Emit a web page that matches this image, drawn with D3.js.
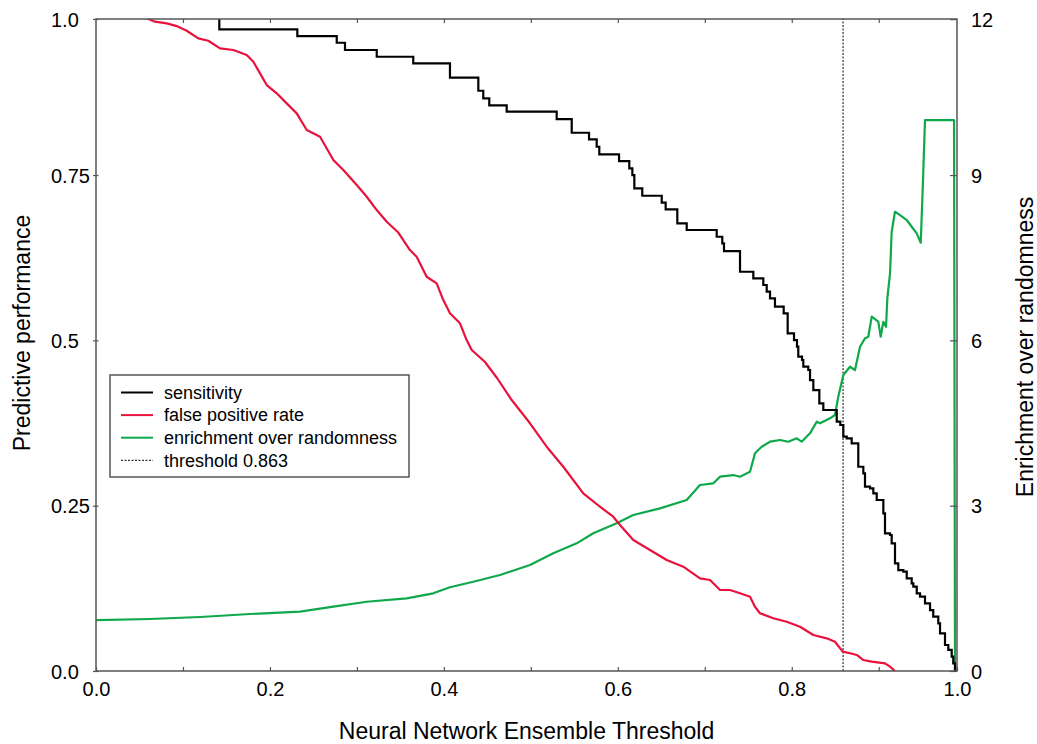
<!DOCTYPE html>
<html>
<head>
<meta charset="utf-8">
<script src="https://cdn.jsdelivr.net/npm/d3@7"></script>
<style>
  html, body { margin: 0; padding: 0; background: #fff; }
  svg { display: block; }
  text { font-family: "Liberation Sans", Arial, Helvetica, sans-serif; fill: #000; }
</style>
</head>
<body>
<svg id="chart" width="1037" height="744"></svg>
<script>
// ---------------- DATA ----------------
// Sensitivity: step function, [threshold where it drops, new value]
const sensX = [0, 0.1418, 0.2315, 0.2768, 0.2863, 0.3228, 0.3648, 0.4070, 0.4396, 0.4453, 0.4522,
  0.4722, 0.5297, 0.5470, 0.5669, 0.5757, 0.5787, 0.6014, 0.6132, 0.6167, 0.6190, 0.6281, 0.6505,
  0.6550, 0.6684, 0.6792, 0.7137, 0.7201, 0.7221, 0.7405, 0.7558, 0.7673, 0.7712, 0.7750, 0.7807,
  0.7907, 0.7953, 0.8026, 0.8060, 0.8075, 0.8118, 0.8133, 0.8190, 0.8210, 0.8248, 0.8317, 0.8363,
  0.8517, 0.8558, 0.8593, 0.8632, 0.8689, 0.8765, 0.8823, 0.8842, 0.8900, 0.8938, 0.8977, 0.9053,
  0.9072, 0.9130, 0.9149, 0.9187, 0.9225, 0.9283, 0.9322, 0.9379, 0.9398, 0.9437, 0.9475, 0.9532,
  0.9590, 0.9627, 0.9685, 0.9705, 0.9762, 0.9800, 0.9839, 0.9857, 0.9877];
const sensY = [1.0, 0.9704, 0.9602, 0.9501, 0.9391, 0.9289, 0.9189, 0.8972, 0.8775, 0.8660, 0.8554,
  0.8458, 0.8347, 0.8140, 0.8040, 0.7928, 0.7813, 0.7712, 0.7602, 0.7500, 0.7299, 0.7187, 0.7082,
  0.6982, 0.6770, 0.6669, 0.6567, 0.6468, 0.6351, 0.6038, 0.5938, 0.5837, 0.5736, 0.5636, 0.5509,
  0.5409, 0.5107, 0.5005, 0.4904, 0.4753, 0.4703, 0.4602, 0.4552, 0.4400, 0.4249, 0.4048, 0.3947,
  0.3770, 0.3720, 0.3543, 0.3519, 0.3443, 0.3089, 0.2990, 0.2787, 0.2763, 0.2687, 0.2586, 0.2385,
  0.2082, 0.2057, 0.1931, 0.1629, 0.1527, 0.1502, 0.1402, 0.1326, 0.1275, 0.1175, 0.1124, 0.1024,
  0.0922, 0.0821, 0.0721, 0.0570, 0.0393, 0.0318, 0.0216, 0.0116, 0.0];

// False positive rate
const fprX = [0, 0.0583, 0.0678, 0.0813, 0.0928, 0.1043, 0.1176, 0.1291, 0.1426, 0.1579, 0.1733,
  0.1809, 0.1886, 0.1963, 0.2078, 0.2193, 0.2308, 0.2423, 0.2576, 0.2729, 0.2844, 0.2998, 0.3113,
  0.3228, 0.3343, 0.3476, 0.3610, 0.3687, 0.3802, 0.3917, 0.3993, 0.4070, 0.4185, 0.4262, 0.4320,
  0.4473, 0.4611, 0.4780, 0.4990, 0.5182, 0.5373, 0.5603, 0.5795, 0.5948, 0.6025, 0.6178, 0.6370,
  0.6562, 0.6753, 0.6945, 0.7060, 0.7175, 0.7290, 0.7405, 0.7520, 0.7577, 0.7635, 0.7788, 0.7942,
  0.8095, 0.8248, 0.8402, 0.8497, 0.8586, 0.8670, 0.8747, 0.8823, 0.8919, 0.9072, 0.9130, 0.9187];
const fprY = [1.0, 0.9870, 0.9819, 0.9794, 0.9753, 0.9682, 0.9567, 0.9531, 0.9416, 0.9391, 0.9315,
  0.9214, 0.9038, 0.8861, 0.8736, 0.8584, 0.8433, 0.8181, 0.8080, 0.7727, 0.7576, 0.7349, 0.7172,
  0.6971, 0.6794, 0.6631, 0.6366, 0.6265, 0.5962, 0.5863, 0.5610, 0.5409, 0.5258, 0.5005, 0.4854,
  0.4673, 0.4431, 0.4098, 0.3746, 0.3392, 0.3089, 0.2687, 0.2484, 0.2333, 0.2208, 0.1981, 0.1830,
  0.1678, 0.1577, 0.1402, 0.1376, 0.1225, 0.1225, 0.1175, 0.1124, 0.0972, 0.0873, 0.0797, 0.0745,
  0.0670, 0.0544, 0.0494, 0.0443, 0.0292, 0.0268, 0.0242, 0.0166, 0.0141, 0.0116, 0.0065, 0.0];

// Enrichment over randomness (right axis)
const enrX = [0, 0.0621, 0.1196, 0.1771, 0.2346, 0.2729, 0.3113, 0.3572, 0.3878, 0.4070, 0.4338,
  0.4645, 0.4990, 0.5258, 0.5527, 0.5718, 0.5987, 0.6178, 0.6485, 0.6792, 0.6945, 0.7098, 0.7175,
  0.7328, 0.7405, 0.7520, 0.7577, 0.7654, 0.7750, 0.7865, 0.7960, 0.8057, 0.8114, 0.8210, 0.8287,
  0.8325, 0.8440, 0.8497, 0.8535, 0.8593, 0.8670, 0.8727, 0.8785, 0.8842, 0.8880, 0.8919, 0.8995,
  0.9023, 0.9053, 0.9084, 0.9099, 0.9130, 0.9149, 0.9187, 0.9245, 0.9322, 0.9379, 0.9437, 0.9483,
  0.9506, 0.9532, 0.9866, 0.9877];
const enrY = [0.925, 0.944, 0.980, 1.034, 1.076, 1.167, 1.257, 1.319, 1.410, 1.519, 1.620,
  1.742, 1.923, 2.136, 2.317, 2.499, 2.680, 2.831, 2.952, 3.103, 3.375, 3.406, 3.526,
  3.556, 3.526, 3.616, 3.950, 4.070, 4.161, 4.192, 4.161, 4.222, 4.161, 4.313, 4.524,
  4.495, 4.585, 4.645, 4.977, 5.371, 5.522, 5.462, 5.885, 6.037, 6.066, 6.429, 6.338,
  6.066, 6.338, 6.247, 6.763, 7.216, 7.971, 8.334, 8.274, 8.184, 8.062, 7.942, 7.772,
  8.759, 9.998, 9.998, 0.0];

const thresholdLineX = 0.859;           // where the dashed line sits in the picture
const legendLabels = ["sensitivity", "false positive rate", "enrichment over randomness", "threshold 0.863"];

// Axis ends and tick labels
const xMax = 0.99, yMax = 0.986, yRMax = 0.986 * 12;
const xTickValues = [0, 0.1, 0.2, 0.3, 0.4, 0.5, 0.6, 0.7, 0.8, 0.9, 0.99];
const xTickLabels = ["0.0", "", "0.2", "", "0.4", "", "0.6", "", "0.8", "", "1.0"];
const yTickValues = [0, 0.25, 0.5, 0.75, 0.986];
const yTickLabels = ["0.0", "0.25", "0.5", "0.75", "1.0"];
const yRTickValues = [0, 3, 6, 9, 11.83];
const yRTickLabels = ["0", "3", "6", "9", "12"];

// ---------------- DRAWING ----------------
const svg = d3.select("#chart");
const L = 96, T = 19, R = 957, B = 671;
const frameColor = "#555";
const colors = { sens: "#000000", fpr: "#e8123c", enr: "#0fa84a" };

const x = d3.scaleLinear().domain([0, xMax]).range([L, R]);
const y = d3.scaleLinear().domain([0, yMax]).range([B, T]);
const yR = d3.scaleLinear().domain([0, yRMax]).range([B, T]);

svg.append("defs").append("clipPath").attr("id", "clip")
  .append("rect").attr("x", L).attr("y", T).attr("width", R - L).attr("height", B - T);

const plot = svg.append("g").attr("clip-path", "url(#clip)");

// dashed threshold line
plot.append("line")
  .attr("x1", x(thresholdLineX)).attr("x2", x(thresholdLineX))
  .attr("y1", y(0)).attr("y2", y(yMax))
  .attr("stroke", "#000").attr("stroke-width", 1).attr("stroke-dasharray", "2,1.5");

const zip = (xs, ys) => xs.map((v, i) => [v, ys[i]]);

plot.append("path").datum(zip(enrX, enrY))
  .attr("fill", "none").attr("stroke", colors.enr).attr("stroke-width", 2.2)
  .attr("stroke-linejoin", "round")
  .attr("d", d3.line().x(d => x(d[0])).y(d => yR(d[1])));

plot.append("path").datum(zip(fprX, fprY))
  .attr("fill", "none").attr("stroke", colors.fpr).attr("stroke-width", 2.2)
  .attr("stroke-linejoin", "round")
  .attr("d", d3.line().x(d => x(d[0])).y(d => y(d[1])));

plot.append("path").datum(zip(sensX, sensY))
  .attr("fill", "none").attr("stroke", colors.sens).attr("stroke-width", 2.2)
  .attr("d", d3.line().curve(d3.curveStepAfter).x(d => x(d[0])).y(d => y(d[1])));

// Axes
function styleAxis(g) {
  g.select(".domain").remove();
  g.selectAll(".tick line").attr("stroke", frameColor).attr("stroke-width", 1.2);
  g.selectAll(".tick text").style("font-size", "20px")
    .style("font-family", "'Liberation Sans', Arial, sans-serif").attr("fill", "#000");
}

const xAxis = svg.append("g").attr("transform", `translate(0,${B})`)
  .call(d3.axisBottom(x).tickValues(xTickValues)
    .tickFormat((d, i) => xTickLabels[i]).tickSizeInner(-4).tickSizeOuter(0).tickPadding(0));
styleAxis(xAxis);
xAxis.selectAll(".tick text").attr("y", 25).attr("dy", 0);

const xTop = svg.append("g").attr("transform", `translate(0,${T})`)
  .call(d3.axisTop(x).tickValues(xTickValues.slice(1, -1)).tickFormat("").tickSizeInner(-4).tickSizeOuter(0));
styleAxis(xTop);

const yAxis = svg.append("g").attr("transform", `translate(${L},0)`)
  .call(d3.axisLeft(y).tickValues(yTickValues)
    .tickFormat((d, i) => yTickLabels[i]).tickSizeInner(3).tickSizeOuter(0).tickPadding(0));
styleAxis(yAxis);
yAxis.selectAll(".tick line").attr("x1", 2.5).attr("x2", -3);
yAxis.selectAll(".tick text").attr("text-anchor", "start").attr("x", -45).attr("dy", "0.35em");

const yRAxis = svg.append("g").attr("transform", `translate(${R},0)`)
  .call(d3.axisRight(yR).tickValues(yRTickValues)
    .tickFormat((d, i) => yRTickLabels[i]).tickSizeInner(-7).tickSizeOuter(0).tickPadding(0));
styleAxis(yRAxis);
yRAxis.selectAll(".tick text").attr("text-anchor", "start").attr("x", 14).attr("dy", "0.35em");

// frame
svg.append("rect").attr("x", L).attr("y", T).attr("width", R - L).attr("height", B - T)
  .attr("fill", "none").attr("stroke", frameColor).attr("stroke-width", 1.5);

// Axis titles
svg.append("text").attr("x", (L + R) / 2 + 0).attr("y", 739)
  .attr("text-anchor", "middle").style("font-size", "23px")
  .text("Neural Network Ensemble Threshold");
svg.append("text").attr("transform", "translate(30,333) rotate(-90)")
  .attr("text-anchor", "middle").style("font-size", "23px")
  .text("Predictive performance");
svg.append("text").attr("transform", "translate(1033,347) rotate(-90)")
  .attr("text-anchor", "middle").style("font-size", "23px")
  .text("Enrichment over randomness");

// Legend
const lg = svg.append("g");
lg.append("rect").attr("x", 110).attr("y", 375).attr("width", 299).attr("height", 102)
  .attr("fill", "#fff").attr("stroke", frameColor).attr("stroke-width", 1.5);
const legendStyles = [
  { c: colors.sens, w: 2, dash: null },
  { c: colors.fpr, w: 2, dash: null },
  { c: colors.enr, w: 2, dash: null },
  { c: "#000", w: 1, dash: "2,1.5" }
];
legendLabels.forEach((lab, i) => {
  const yy = 392.5 + i * 22.6;
  const ln = lg.append("line").attr("x1", 121).attr("x2", 153).attr("y1", yy).attr("y2", yy)
    .attr("stroke", legendStyles[i].c).attr("stroke-width", legendStyles[i].w);
  if (legendStyles[i].dash) ln.attr("stroke-dasharray", legendStyles[i].dash);
  lg.append("text").attr("x", 164).attr("y", yy).attr("dy", "0.35em")
    .style("font-size", "18px").text(lab);
});
</script>
</body>
</html>
